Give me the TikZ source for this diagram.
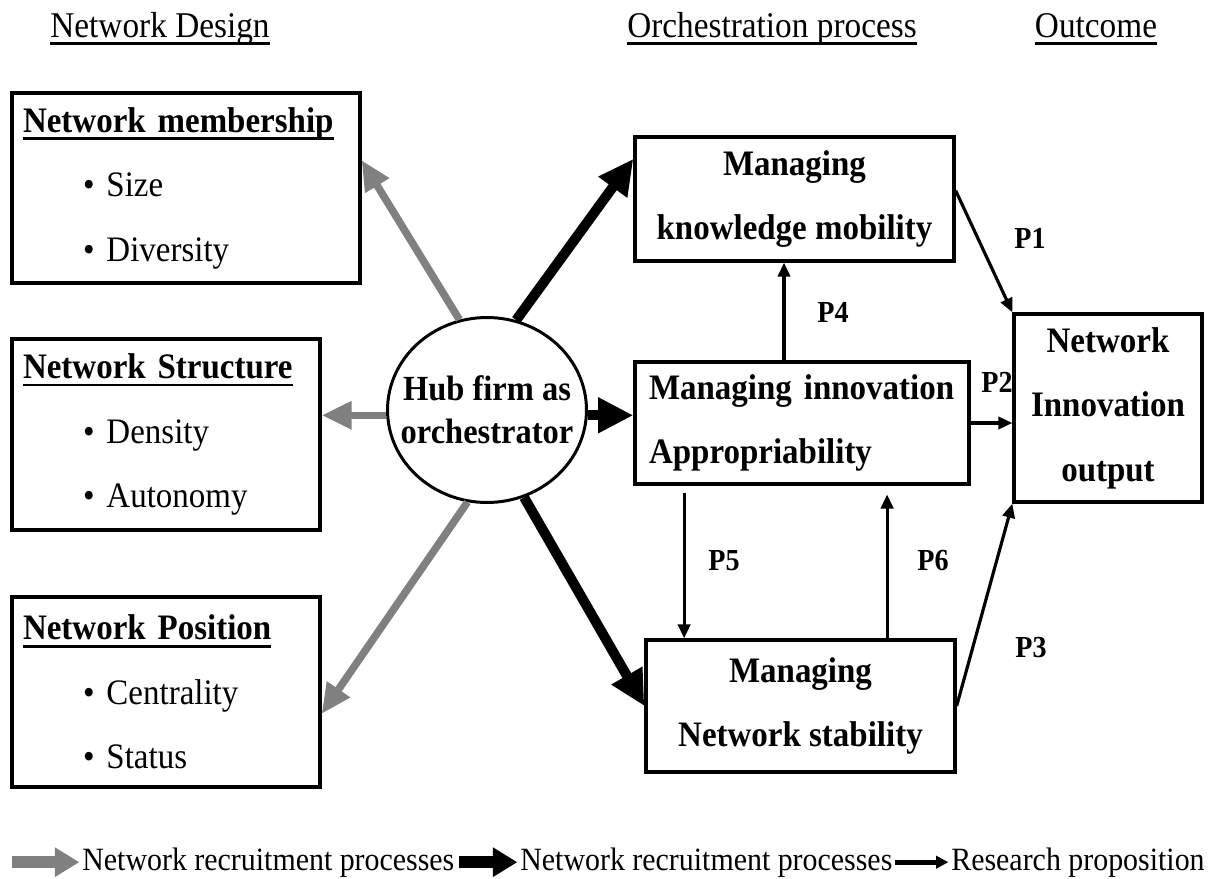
\documentclass[tikz,border=0pt]{standalone}
\usepackage{fontspec}
\setmainfont[FakeStretch=0.92]{Liberation Serif}
\usepackage{tikz}
\usetikzlibrary{arrows.meta,shapes.geometric}
\newsavebox{\ulinebox}
\newcommand{\ulined}[1]{\sbox{\ulinebox}{#1}\leavevmode\rlap{\rule[-4.5pt]{\wd\ulinebox}{1.5pt}}\usebox{\ulinebox}}
\newcommand{\boxfont}{\fontsize{20.4}{36.7}\selectfont}
\newcommand{\hubfont}{\fontsize{20.1}{24.5}\selectfont\bfseries}
\newcommand{\legfont}{\fontsize{18.5}{20}\selectfont}
\newcommand{\labfont}{\fontsize{17.4}{19}\selectfont\bfseries}

\begin{document}
\begin{tikzpicture}[x=0.02cm, y=-0.02cm,
    block/.style={rectangle, draw, line width=1.9pt, inner sep=0pt},
    listbox/.style={block, align=left, inner xsep=0.22cm, font=\boxfont},
    orchbox/.style={block, align=center, font=\boxfont\bfseries},
    hub/.style={ellipse, draw, line width=1.7pt, inner sep=0pt, minimum width=3.98cm, minimum height=3.7cm},
    heading/.style={anchor=base, inner sep=0pt, font=\fontsize{20.6}{22}\selectfont},
    plabel/.style={anchor=base, inner sep=0pt, font=\labfont},
    legend/.style={anchor=base west, inner sep=0pt, font=\legfont},
    grayarrow/.style={-{Triangle[length=17pt,width=15pt]}, line width=4.3pt, gray},
    blackarrow/.style={-{Triangle[length=20pt,width=19pt]}, line width=5.7pt},
    proparrow/.style={-{Triangle[length=8pt,width=7pt]}, line width=1.8pt}
]
    \useasboundingbox (0,0) rectangle (1214,879);

    \node[heading] (hdesign) at (160,37) {\ulined{Network Design}};
    \node[heading] (horch) at (772,37) {\ulined{Orchestration process}};
    \node[heading] (hout) at (1096,37) {\ulined{Outcome}};

    \node[listbox, minimum width=6.96cm, text width=6.52cm, minimum height=3.8cm] (mem) at (186,188)
        {\ulined{\textbf{Network membership}}\\\hspace*{1.2cm}• Size\\\hspace*{1.2cm}• Diversity};
    \node[listbox, minimum width=6.16cm, text width=5.72cm, minimum height=3.82cm] (struc) at (166,434.5)
        {\ulined{\textbf{Network Structure}}\\\hspace*{1.2cm}• Density\\\hspace*{1.2cm}• Autonomy};
    \node[listbox, minimum width=6.16cm, text width=5.72cm, minimum height=3.8cm] (posn) at (166,692)
        {\ulined{\textbf{Network Position}}\\\hspace*{1.2cm}• Centrality\\\hspace*{1.2cm}• Status};

    \node[hub] (hub) at (487,410) {};
    \node[align=center, inner sep=0pt, font=\hubfont] (hubtext) at (hub) {Hub firm as\\orchestrator};

    \node[orchbox, minimum width=6.38cm, minimum height=2.48cm] (km) at (794.5,199) {Managing\\knowledge mobility};
    \node[orchbox, align=left, inner xsep=0.28cm, text width=6.12cm, minimum width=6.68cm, minimum height=2.44cm] (ia) at (802,423)
        {Managing innovation\\Appropriability};
    \node[orchbox, minimum width=6.18cm, minimum height=2.64cm] (ns) at (800.5,706) {Managing\\Network stability};
    \node[orchbox, minimum width=3.76cm, minimum height=3.76cm] (out) at (1108,408) {Network\\Innovation\\output};

    \draw[grayarrow] (hub.107) -- (mem.9);
    \draw[grayarrow] (hub.183) -- (hub.183 -| struc.east);
    \draw[grayarrow] (hub.258) -- (posn.352);
    \draw[blackarrow] (hub.72) -- (km.166);
    \draw[blackarrow] (hub.357) -- (hub.357 -| ia.west);
    \draw[blackarrow] (hub.293) -- (ns.west);

    \draw[proparrow] (km.3) -- (out.north west);
    \draw[proparrow] (ia.east) -- (ia.east -| out.west);
    \draw[proparrow] (ns.east) -- (out.south west);
    \draw[proparrow] (ia.106) -- (ia.106 |- km.south);
    \draw[proparrow, shorten <=4pt] (ia.208) -- (ia.208 |- ns.north);
    \draw[proparrow, shorten >=5pt] (ns.38) -- (ns.38 |- ia.south);

    \node[plabel] (p1) at (1030,248) {P1};
    \node[plabel] (p2) at (997,392) {P2};
    \node[plabel] (p3) at (1031,657) {P3};
    \node[plabel] (p4) at (833,322) {P4};
    \node[plabel] (p5) at (724,570) {P5};
    \node[plabel] (p6) at (933,570) {P6};

    \node[legend] (leg1) at (82,870) {Network recruitment processes};
    \node[legend] (leg2) at (520,870) {Network recruitment processes};
    \node[legend] (leg3) at (951,870) {Research proposition};
    \coordinate (lg1) at (12,0 |- leg1.west);
    \coordinate (lg2) at (459,0 |- leg2.west);
    \coordinate (lg3) at (895,0 |- leg3.west);
    \draw[-{Triangle[length=14pt,width=16pt]}, line width=6.8pt, gray, shorten >=1.5pt] (lg1) -- (leg1.west);
    \draw[-{Triangle[length=14pt,width=16pt]}, line width=6.8pt, shorten >=1.5pt] (lg2) -- (leg2.west);
    \draw[-{Triangle[length=7pt,width=7pt]}, line width=2.8pt, shorten >=1.5pt] (lg3) -- (leg3.west);
\end{tikzpicture}
\end{document}
